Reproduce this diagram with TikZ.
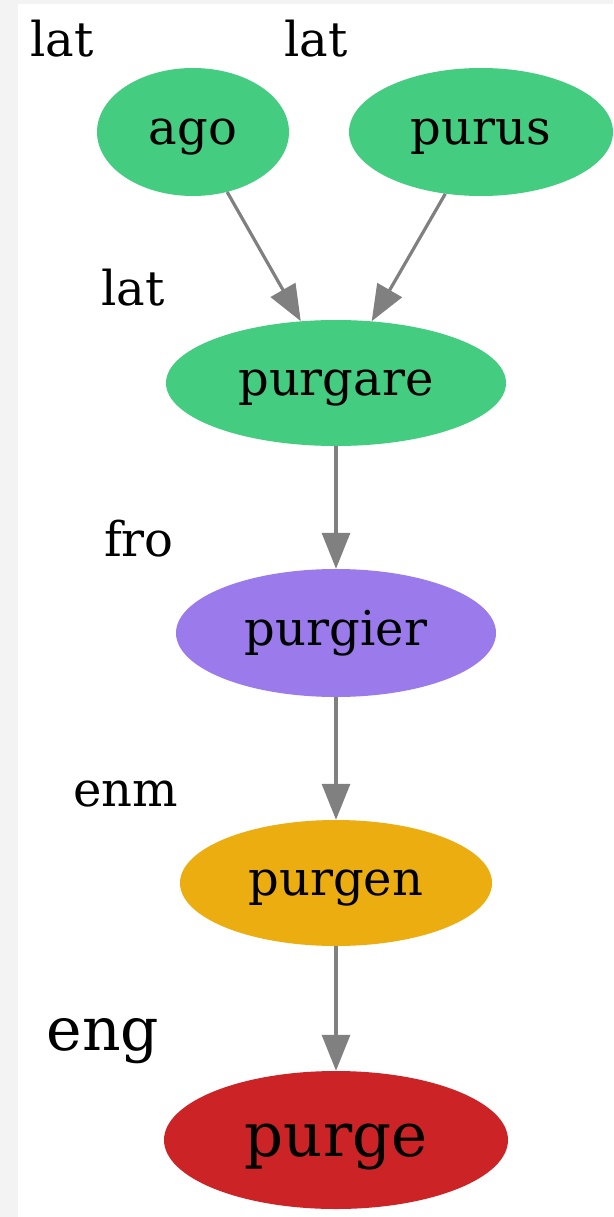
\documentclass[tikz,border=0pt]{standalone}
\usepackage{fontspec}
\setmainfont{DejaVu Serif}
\usetikzlibrary{shapes.geometric,arrows.meta}
\definecolor{latgreen}{RGB}{68,204,128}
\definecolor{fropurple}{RGB}{155,122,235}
\definecolor{enmorange}{RGB}{235,173,16}
\definecolor{engred}{RGB}{204,36,38}
\definecolor{edgegray}{RGB}{128,128,128}
\definecolor{stripgray}{RGB}{243,243,243}
\begin{document}
\begin{tikzpicture}[x=1pt,y=-1pt,
  word/.style={ellipse,inner sep=0pt,minimum width=#1},
  wordA/.style={word=192pt,minimum height=128pt,fill=latgreen,
    font=\fontsize{48}{54}\selectfont,text height=25pt,text depth=0pt},
  lang/.style={inner sep=0pt,anchor=base,font=\fontsize{48}{54}\selectfont},
  link/.style={draw=edgegray,line width=3.2pt,-{Triangle[length=36pt,width=28pt]}}]
  % page and the grey frame along the left and top
  \useasboundingbox (0,0) rectangle (613,1217);
  \fill[stripgray] (0,0) rectangle (613,1217);
  \fill[white] (18,4) rectangle (613,1217);
  % language tags
  \node[lang] (tagago)   at (62,57)   {lat};
  \node[lang] (tagpurus) at (316,57)  {lat};
  \node[lang] (tagpga)   at (133,305) {lat};
  \node[lang] (tagfro)   at (139,556) {fro};
  \node[lang] (tagenm)   at (126,806) {enm};
  \node[lang,font=\fontsize{60}{66}\selectfont] (tageng) at (103,1050) {eng};
  % words
  \node[wordA] (ago) at (193,132) {ago};
  \node[wordA,minimum width=264pt] (purus) at (481,132) {purus};
  \node[wordA,minimum width=340pt,minimum height=126pt] (purgare) at (336,383) {purgare};
  \node[wordA,minimum width=320pt,fill=fropurple] (purgier) at (336,633) {purgier};
  \node[wordA,minimum width=312pt,minimum height=126pt,fill=enmorange] (purgen) at (336,883) {purgen};
  \node[wordA,minimum width=344pt,minimum height=138pt,fill=engred,
    font=\fontsize{61}{66}\selectfont,text height=32pt] (purge) at (336,1140) {purge};
  % derivations
  \draw[link] (ago) -- (purgare);
  \draw[link] (purus) -- (purgare);
  \draw[link] (purgare) -- (purgier);
  \draw[link] (purgier) -- (purgen);
  \draw[link] (purgen) -- (purge);
\end{tikzpicture}
\end{document}
